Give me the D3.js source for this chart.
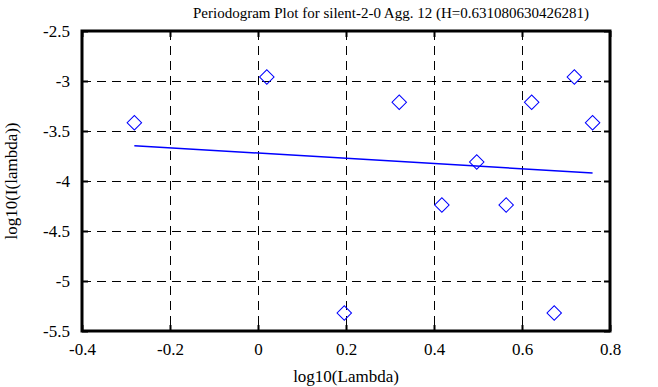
<!DOCTYPE html>
<html>
<head>
<meta charset="utf-8">
<script src="https://cdn.jsdelivr.net/npm/d3@7"></script>
<style>
  body { margin: 0; background: #fff; }
  svg text { font-family: "Liberation Serif", "DejaVu Serif", serif !important; fill: #000; }
</style>
</head>
<body>
<div id="chart"></div>
<script>
// periodogram points, k = 1..11
var logLambda = [-0.2810, 0.0200, 0.1961, 0.3210, 0.4179, 0.4971, 0.5640, 0.6220, 0.6732, 0.7190, 0.7604];
var logI = [-3.417, -2.960, -5.320, -3.213, -4.240, -3.810, -4.240, -3.213, -5.320, -2.960, -3.417];
// least squares fit: slope = 1 - 2H
var fitSlope = -0.2621613;
var fitIntercept = -3.7207;
var xTicks = [-0.4, -0.2, 0, 0.2, 0.4, 0.6, 0.8];
var yTicks = [-2.5, -3, -3.5, -4, -4.5, -5, -5.5];
var title = 'Periodogram Plot for silent-2-0 Agg. 12 (H=0.631080630426281)';

var width = 658, height = 387;
var margin = {left: 82, right: 48, top: 31, bottom: 56};

var svg = d3.select('#chart').append('svg')
    .attr('width', width).attr('height', height);

var x = d3.scaleLinear().domain([-0.4, 0.8]).range([margin.left, width - margin.right]);
var y = d3.scaleLinear().domain([-5.5, -2.5]).range([height - margin.bottom, margin.top]);

var x0 = x.range()[0], x1 = x.range()[1];
var y0 = y.range()[0], y1 = y.range()[1];

// plain hyphen minus like the original
var fmt = function(d) { return String(d); };

// dashed grid
svg.append('g').selectAll('line.vgrid')
    .data(xTicks.slice(1, -1))
    .enter().append('line')
    .attr('x1', function(d) { return x(d); }).attr('x2', function(d) { return x(d); })
    .attr('y1', y1).attr('y2', y0)
    .attr('stroke', '#000').attr('stroke-width', 1)
    .attr('stroke-dasharray', '9,6').attr('shape-rendering', 'crispEdges');

svg.append('g').selectAll('line.hgrid')
    .data(yTicks.slice(1, -1))
    .enter().append('line')
    .attr('x1', x0).attr('x2', x1)
    .attr('y1', function(d) { return y(d); }).attr('y2', function(d) { return y(d); })
    .attr('stroke', '#000').attr('stroke-width', 1)
    .attr('stroke-dasharray', '9,6').attr('shape-rendering', 'crispEdges');

// axes with inward ticks
var axB = svg.append('g').attr('transform', 'translate(0,' + y0 + ')')
    .call(d3.axisBottom(x).tickValues(xTicks).tickSizeInner(-6).tickSizeOuter(0).tickPadding(14).tickFormat(fmt));
var axT = svg.append('g').attr('transform', 'translate(0,' + y1 + ')')
    .call(d3.axisTop(x).tickValues(xTicks).tickSizeInner(-6).tickSizeOuter(0).tickFormat(''));
var axL = svg.append('g').attr('transform', 'translate(' + x0 + ',0)')
    .call(d3.axisLeft(y).tickValues(yTicks).tickSizeInner(-6).tickSizeOuter(0).tickPadding(14).tickFormat(fmt));
var axR = svg.append('g').attr('transform', 'translate(' + x1 + ',0)')
    .call(d3.axisRight(y).tickValues(yTicks).tickSizeInner(-6).tickSizeOuter(0).tickFormat(''));

[axB, axT, axL, axR].forEach(function(a) {
    a.attr('font-family', null).attr('font-size', null);
    a.select('.domain').remove();
    a.selectAll('line').attr('stroke', '#000').attr('stroke-width', 2);
    a.selectAll('text')
        .style('font-family', 'Liberation Serif')
        .style('font-size', '17px')
        .attr('fill', '#000');
});
axB.selectAll('text').attr('dy', '0.71em').attr('y', 12);
axL.selectAll('text').attr('x', -12);

// frame
svg.append('rect')
    .attr('x', x0).attr('y', y1)
    .attr('width', x1 - x0).attr('height', y0 - y1)
    .attr('fill', 'none').attr('stroke', '#000').attr('stroke-width', 3);

// fitted line
var fitLine = d3.line()
    .x(function(d) { return x(d); })
    .y(function(d) { return y(fitIntercept + fitSlope * d); });
svg.append('path')
    .datum(d3.extent(logLambda))
    .attr('d', fitLine)
    .attr('fill', 'none').attr('stroke', '#0000ff').attr('stroke-width', 1.5);

// diamonds
var sym = d3.symbol().type(d3.symbolSquare).size(105);
svg.append('g').selectAll('path.pt')
    .data(logLambda)
    .enter().append('path')
    .attr('d', sym)
    .attr('transform', function(d, i) { return 'translate(' + x(d) + ',' + y(logI[i]) + ') rotate(45)'; })
    .attr('fill', 'none').attr('stroke', '#0000ff').attr('stroke-width', 1);

// labels
svg.append('text')
    .attr('x', 391).attr('y', 18)
    .attr('text-anchor', 'middle')
    .style('font-size', '15px')
    .text(title);

svg.append('text')
    .attr('x', (x0 + x1) / 2).attr('y', 382)
    .attr('text-anchor', 'middle')
    .style('font-size', '17px')
    .text('log10(Lambda)');

svg.append('text')
    .attr('transform', 'translate(17,' + ((y0 + y1) / 2) + ') rotate(-90)')
    .attr('text-anchor', 'middle')
    .style('font-size', '17px')
    .text('log10(I(lambda))');
</script>
</body>
</html>
